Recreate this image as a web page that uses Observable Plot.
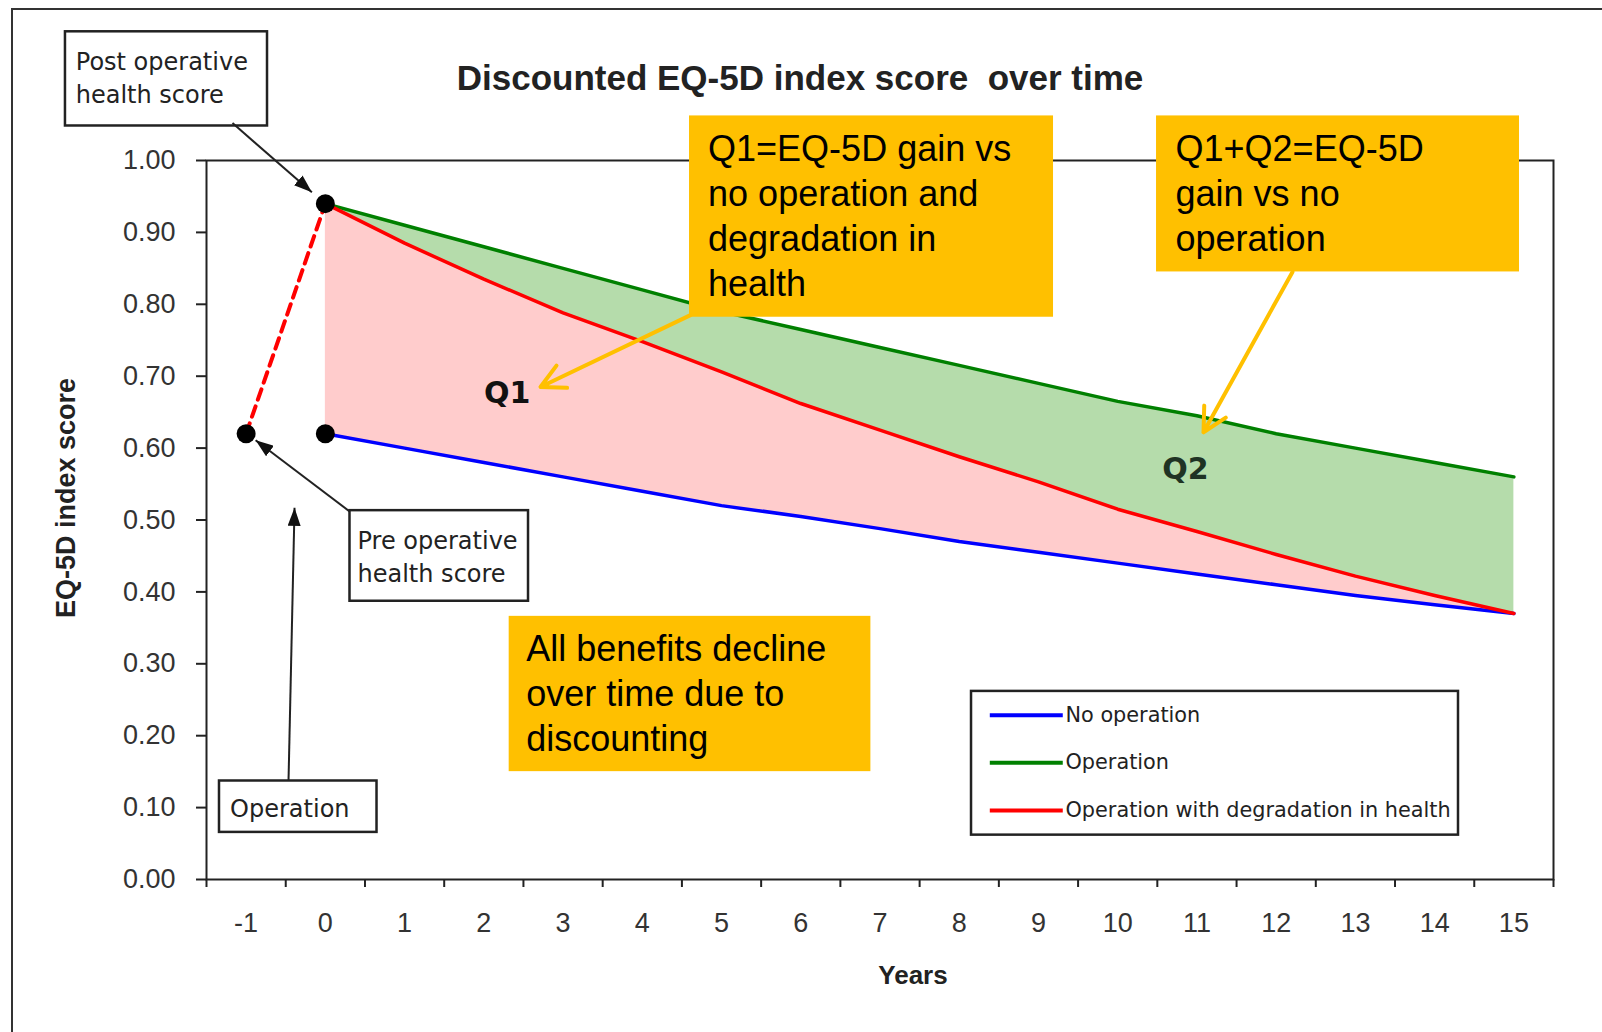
<!DOCTYPE html>
<html>
<head>
<meta charset="utf-8">
<script src="https://cdn.jsdelivr.net/npm/d3@7"></script>
<script src="https://cdn.jsdelivr.net/npm/@observablehq/plot@0.6"></script>
<style>
html, body { margin: 0; padding: 0; background: #fff; overflow: hidden; }
#wrap { position: relative; width: 1602px; height: 1032px; overflow: hidden; background: #fff; }
#border { position: absolute; left: 11px; top: 8px; width: 1700px; height: 1100px; border-left: 2px solid #333; border-top: 2px solid #333; }
#chart { position: absolute; left: 0; top: 0; }
</style>
</head>
<body>
<div id="wrap"><div id="border"></div><div id="chart"></div></div>
<script>
// ---- Data ----
const years = [0, 1, 2, 3, 4, 5, 6, 7, 8, 9, 10, 11, 12, 13, 14, 15];
const noOperation = [0.62, 0.60, 0.58, 0.56, 0.54, 0.52, 0.505, 0.488, 0.47, 0.455, 0.44, 0.425, 0.41, 0.395, 0.382, 0.37];
const operation   = [0.94, 0.91, 0.88, 0.85, 0.82, 0.79, 0.765, 0.74, 0.715, 0.69, 0.665, 0.645, 0.62, 0.60, 0.58, 0.56];
const degradation = [0.94, 0.885, 0.835, 0.788, 0.748, 0.706, 0.662, 0.625, 0.588, 0.553, 0.515, 0.484, 0.452, 0.422, 0.395, 0.37];
const preOpYear = -1;
const preOpScore = 0.62;

const xTickLabels = [-1, 0, 1, 2, 3, 4, 5, 6, 7, 8, 9, 10, 11, 12, 13, 14, 15];
const yTicks = [0, 0.1, 0.2, 0.3, 0.4, 0.5, 0.6, 0.7, 0.8, 0.9, 1.0];
const seriesNames = ["No operation", "Operation", "Operation with degradation in health"];
const seriesColors = ["#0000ff", "#008000", "#ff0000"];

const titleText = "Discounted EQ-5D index score  over time";
const yTitle = "EQ-5D index score";
const xTitle = "Years";

// ---- Tables built from the arrays ----
const rows = years.map((yr, i) => ({year: yr, noOp: noOperation[i], op: operation[i], deg: degradation[i]}));
const preOpLine = [{year: preOpYear, v: preOpScore}, {year: years[0], v: operation[0]}];
const keyPoints = [
  {year: preOpYear, v: preOpScore},
  {year: years[0], v: operation[0]},
  {year: years[0], v: noOperation[0]}
];
const xBoundaries = xTickLabels.map(d => d - 0.5).concat([xTickLabels[xTickLabels.length - 1] + 0.5]);

// ---- Annotations (in data units: years / score) ----
const whiteBoxes = [
  {x1: -3.28, x2: -0.73, y1: 1.048, y2: 1.179, tx: -3.15, ty: 1.118, label: "Post operative\nhealth score"},
  {x1: 0.311, x2: 2.564, y1: 0.387, y2: 0.513, tx: 0.406, ty: 0.452, label: "Pre operative\nhealth score"},
  {x1: -1.336, x2: 0.652, y1: 0.0655, y2: 0.137, tx: -1.202, ty: 0.1016, label: "Operation"}
];
const blackArrows = [
  {x1: -1.172, y1: 1.052, x2: -0.17, y2: 0.956},
  {x1: 0.305, y1: 0.512, x2: -0.88, y2: 0.611},
  {x1: -0.465, y1: 0.137, x2: -0.389, y2: 0.517}
];
const yellowBoxes = [
  {x1: 4.596, x2: 9.19, y1: 0.782, y2: 1.062, tx: 4.83, ty: 0.925, label: "Q1=EQ-5D gain vs\nno operation and\ndegradation in\nhealth"},
  {x1: 10.49, x2: 15.071, y1: 0.845, y2: 1.062, tx: 10.73, ty: 0.957, label: "Q1+Q2=EQ-5D\ngain vs no\noperation"},
  {x1: 2.32, x2: 6.885, y1: 0.15, y2: 0.366, tx: 2.535, ty: 0.262, label: "All benefits decline\nover time due to\ndiscounting"}
];
const yellowArrows = [
  {x1: 4.608, y1: 0.785, x2: 2.715, y2: 0.685},
  {x1: 12.206, y1: 0.845, x2: 11.083, y2: 0.622}
];
const qLabels = [
  {x: 2.295, y: 0.676, text: "Q1", color: "#111"},
  {x: 10.856, y: 0.571, text: "Q2", color: "#1f3324"}
];
const legendBox = [{x1: 8.155, x2: 14.301, y1: 0.0617, y2: 0.2616}];
const legendRows = seriesNames.map((name, i) => ({
  name, color: seriesColors[i], y: [0.2284, 0.1623, 0.0961][i], lx1: 8.392, lx2: 9.313, tx: 9.341
}));

const arial = "Liberation Sans, Arial, Helvetica, sans-serif";
const tahoma = "DejaVu Sans, Verdana, sans-serif";

const plot = Plot.plot({
  width: 1602,
  height: 1032,
  marginLeft: 206,
  marginRight: 49,
  marginTop: 160,
  marginBottom: 153,
  x: {domain: [-1.5, 15.5]},
  y: {domain: [0, 1]},
  style: {fontFamily: arial, fontSize: "27px", color: "#222", background: "transparent", overflow: "visible"},
  marks: [
    // areas
    Plot.areaY(rows, {x: "year", y1: "noOp", y2: "deg", fill: "#ffcccc"}),
    Plot.areaY(rows, {x: "year", y1: "deg", y2: "op", fill: "#b5dcab"}),
    // frame and axes
    Plot.frame({stroke: "#222", strokeWidth: 2}),
    Plot.axisY({ticks: yTicks, tickFormat: d => d.toFixed(2), tickSize: 10, tickPadding: 21, label: null, fontSize: 27, fill: "#333", stroke: "#222", strokeWidth: 2}),
    Plot.axisX({ticks: xBoundaries, tickSize: 8, tickFormat: () => "", label: null, stroke: "#222", strokeWidth: 2}),
    Plot.axisX({ticks: xTickLabels, tickFormat: d => `${d}`, tickSize: 0, tickPadding: 33, label: null, fontSize: 27, fill: "#333"}),
    // series lines
    Plot.lineY(rows, {x: "year", y: "noOp", stroke: seriesColors[0], strokeWidth: 3.5}),
    Plot.lineY(rows, {x: "year", y: "op", stroke: seriesColors[1], strokeWidth: 3.5}),
    Plot.lineY(rows, {x: "year", y: "deg", stroke: seriesColors[2], strokeWidth: 3.5}),
    Plot.line(preOpLine, {x: "year", y: "v", stroke: "#ff0000", strokeWidth: 4, strokeDasharray: "11,7"}),
    Plot.dot(keyPoints, {x: "year", y: "v", r: 9.5, fill: "#000"}),
    // white annotation boxes
    Plot.rect(whiteBoxes, {x1: "x1", x2: "x2", y1: "y1", y2: "y2", fill: "#fff", stroke: "#222", strokeWidth: 2.5}),
    Plot.text(whiteBoxes, {x: "tx", y: "ty", text: "label", textAnchor: "start", lineAnchor: "middle", lineHeight: 1.38, fontFamily: tahoma, fontSize: 24, fill: "#222"}),
    Plot.link(blackArrows, {x1: "x1", y1: "y1", x2: "x2", y2: "y2", stroke: "#222", strokeWidth: 2}),
    // yellow boxes
    Plot.rect(yellowBoxes, {x1: "x1", x2: "x2", y1: "y1", y2: "y2", fill: "#ffc000"}),
    Plot.text(yellowBoxes, {x: "tx", y: "ty", text: "label", textAnchor: "start", lineAnchor: "middle", lineHeight: 1.25, fontFamily: arial, fontSize: 36, fill: "#000"}),
    Plot.arrow(yellowArrows, {x1: "x1", y1: "y1", x2: "x2", y2: "y2", stroke: "#ffc000", strokeWidth: 4, headLength: 10, headAngle: 55}),
    // Q labels
    Plot.text(qLabels, {x: "x", y: "y", text: "text", fill: "color", fontFamily: tahoma, fontWeight: "bold", fontSize: 30}),
    // legend
    Plot.rect(legendBox, {x1: "x1", x2: "x2", y1: "y1", y2: "y2", fill: "#fff", stroke: "#222", strokeWidth: 2.5}),
    Plot.ruleY(legendRows, {y: "y", x1: "lx1", x2: "lx2", stroke: "color", strokeWidth: 4}),
    Plot.text(legendRows, {x: "tx", y: "y", text: "name", textAnchor: "start", fontFamily: tahoma, fontSize: 20.8, fill: "#222"}),
    // titles
    Plot.text([titleText], {frameAnchor: "top", text: d => d, textAnchor: "middle", lineAnchor: "middle", dx: -80, dy: -82, fontSize: 35, fontWeight: "bold", fill: "#222"}),
    Plot.text([yTitle], {frameAnchor: "left", text: d => d, textAnchor: "middle", lineAnchor: "middle", rotate: -90, dx: -140, dy: -22, fontSize: 27, fontWeight: "bold", fill: "#222"}),
    Plot.text([xTitle], {frameAnchor: "bottom", text: d => d, textAnchor: "middle", lineAnchor: "middle", dx: 33, dy: 96, fontSize: 26, fontWeight: "bold", fill: "#222"})
  ]
});

// filled arrowheads for the black callout arrows
const svg = d3.select(plot);
const marker = svg.append("defs").append("marker")
  .attr("id", "tri").attr("viewBox", "0 0 10 10").attr("refX", 10).attr("refY", 5)
  .attr("markerWidth", 18).attr("markerHeight", 13).attr("markerUnits", "userSpaceOnUse")
  .attr("preserveAspectRatio", "none").attr("orient", "auto");
marker.append("path").attr("d", "M0,0L10,5L0,10Z").attr("fill", "#111");
svg.selectAll("g[aria-label='link'] path").attr("marker-end", "url(#tri)");

document.getElementById("chart").appendChild(plot);
</script>
</body>
</html>
